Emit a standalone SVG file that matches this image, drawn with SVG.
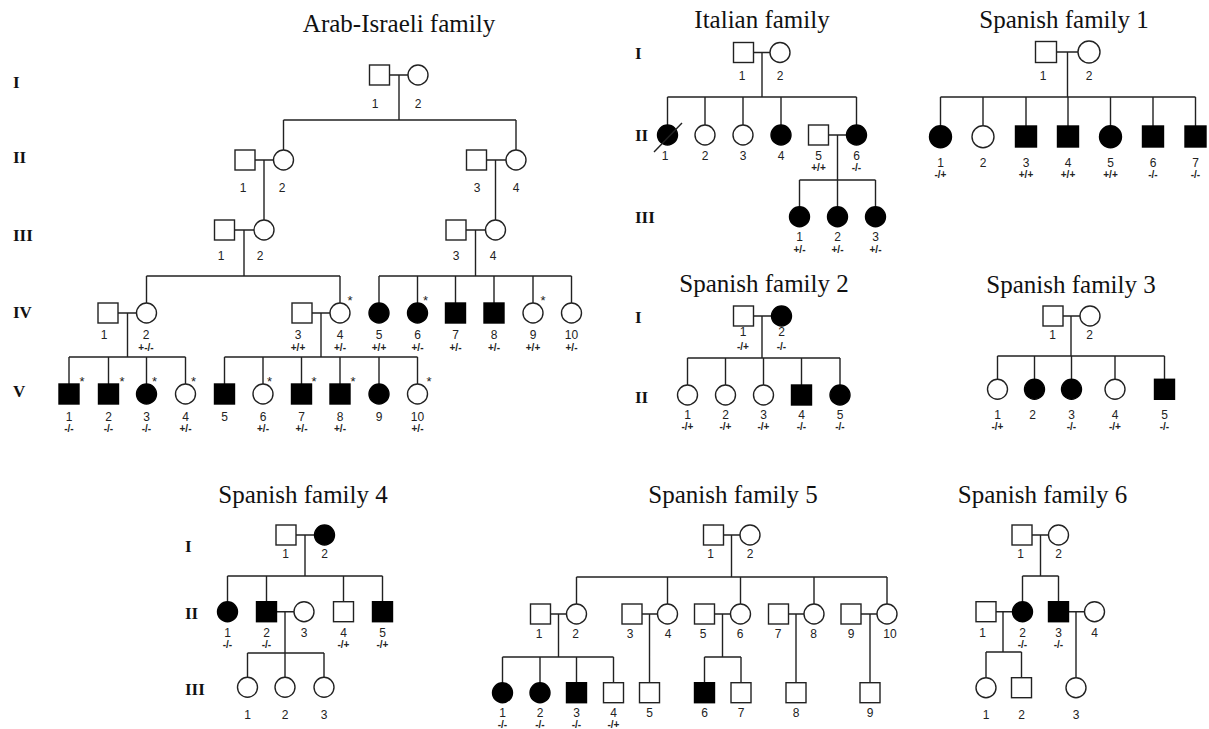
<svg xmlns="http://www.w3.org/2000/svg" width="1209" height="729" viewBox="0 0 1209 729">
<style>
.t{font-family:"Liberation Serif","Times New Roman",serif;font-size:25px;text-anchor:middle;fill:#111}
.g{font-family:"Liberation Serif","Times New Roman",serif;font-size:17px;font-weight:bold;fill:#111}
.n{font-family:"Liberation Sans",Arial,sans-serif;font-size:12px;text-anchor:middle;fill:#222}
.gt{font-family:"Liberation Sans",Arial,sans-serif;font-size:10px;font-weight:bold;text-anchor:middle;fill:#222}
.s{font-family:"Liberation Sans",Arial,sans-serif;font-size:13px;text-anchor:middle;fill:#222}
.o{fill:#fff;stroke:#222;stroke-width:1.4}
.f{fill:#000;stroke:#000;stroke-width:1.4}
.c path{fill:none;stroke:#222;stroke-width:1.4}
</style>
<rect width="1209" height="729" fill="#fff"/>

<!-- ===== Arab-Israeli family ===== -->
<text class="t" x="399" y="32">Arab-Israeli family</text>
<text class="g" x="13" y="88">I</text>
<text class="g" x="13" y="163">II</text>
<text class="g" x="13" y="241">III</text>
<text class="g" x="13" y="318">IV</text>
<text class="g" x="13" y="397">V</text>
<g id="ai-connectors" class="c">
<path d="M389.5 75H408M399 75V120M283.5 120H516M283.5 120V150M516 120V150"/>
<path d="M255 160H273.5M264 160V220M486.5 160H506M495.5 160V220"/>
<path d="M234.5 230H254M244 230V276M466 230H485.5M475.5 230V276"/>
<path d="M146.5 276H340M146.5 276V303M340 276V303"/>
<path d="M379 276H571.5M379 276V303M417.5 276V303M455.5 276V303M494 276V303M533 276V303M571.5 276V303"/>
<path d="M118 313H136.5M127.5 313V357M312 313H330M321 313V357"/>
<path d="M69 357H185.5M69 357V384M108.5 357V384M146.5 357V384M185.5 357V384"/>
<path d="M224.5 357H417.5M224.5 357V384M263 357V384M301.5 357V384M340 357V384M379 357V384M417.5 357V384"/>
</g>
<g id="ai-I1"><rect class="o" x="369.5" y="65" width="20" height="20"/><text class="n" x="375" y="108">1</text></g>
<g id="ai-I2"><circle class="o" cx="418" cy="75" r="10"/><text class="n" x="418" y="108">2</text></g>
<g id="ai-II1"><rect class="o" x="235" y="150" width="20" height="20"/><text class="n" x="243" y="192">1</text></g>
<g id="ai-II2"><circle class="o" cx="283.5" cy="160" r="10"/><text class="n" x="282" y="192">2</text></g>
<g id="ai-II3"><rect class="o" x="466.5" y="150" width="20" height="20"/><text class="n" x="477" y="192">3</text></g>
<g id="ai-II4"><circle class="o" cx="516" cy="160" r="10"/><text class="n" x="516" y="192">4</text></g>
<g id="ai-III1"><rect class="o" x="214.5" y="220" width="20" height="20"/><text class="n" x="221" y="260">1</text></g>
<g id="ai-III2"><circle class="o" cx="264" cy="230" r="10"/><text class="n" x="260" y="260">2</text></g>
<g id="ai-III3"><rect class="o" x="446" y="220" width="20" height="20"/><text class="n" x="456" y="260">3</text></g>
<g id="ai-III4"><circle class="o" cx="495.5" cy="230" r="10"/><text class="n" x="493" y="260">4</text></g>
<g id="ai-IV1"><rect class="o" x="98" y="303" width="20" height="20"/><text class="n" x="104" y="339">1</text></g>
<g id="ai-IV2"><circle class="o" cx="146.5" cy="313" r="10"/><text class="n" x="146" y="339">2</text><text class="gt" x="146" y="350.5">+-/-</text></g>
<g id="ai-IV3"><rect class="o" x="292" y="303" width="20" height="20"/><text class="n" x="298" y="339">3</text><text class="gt" x="298" y="350.5">+/+</text></g>
<g id="ai-IV4"><circle class="o" cx="340" cy="313" r="10"/><text class="n" x="340" y="339">4</text><text class="gt" x="340" y="350.5">+/-</text><text class="s" x="350" y="305">*</text></g>
<g id="ai-IV5"><circle class="f" cx="379" cy="313" r="10"/><text class="n" x="379" y="339">5</text><text class="gt" x="379" y="350.5">+/+</text></g>
<g id="ai-IV6"><circle class="f" cx="417.5" cy="313" r="10"/><text class="n" x="417.5" y="339">6</text><text class="gt" x="417.5" y="350.5">+/-</text><text class="s" x="425.5" y="305">*</text></g>
<g id="ai-IV7"><rect class="f" x="445.5" y="303" width="20" height="20"/><text class="n" x="455.5" y="339">7</text><text class="gt" x="455.5" y="350.5">+/-</text></g>
<g id="ai-IV8"><rect class="f" x="484" y="303" width="20" height="20"/><text class="n" x="494" y="339">8</text><text class="gt" x="494" y="350.5">+/-</text></g>
<g id="ai-IV9"><circle class="o" cx="533" cy="313" r="10"/><text class="n" x="533" y="339">9</text><text class="gt" x="533" y="350.5">+/+</text><text class="s" x="543" y="305">*</text></g>
<g id="ai-IV10"><circle class="o" cx="571.5" cy="313" r="10"/><text class="n" x="571.5" y="339">10</text><text class="gt" x="571.5" y="350.5">+/-</text></g>
<g id="ai-V1"><rect class="f" x="59" y="384" width="20" height="20"/><text class="n" x="69" y="421">1</text><text class="gt" x="69" y="432">-/-</text><text class="s" x="82" y="386">*</text></g>
<g id="ai-V2"><rect class="f" x="98.5" y="384" width="20" height="20"/><text class="n" x="108.5" y="421">2</text><text class="gt" x="108.5" y="432">-/-</text><text class="s" x="122" y="386">*</text></g>
<g id="ai-V3"><circle class="f" cx="146.5" cy="394" r="10"/><text class="n" x="146.5" y="421">3</text><text class="gt" x="146.5" y="432">-/-</text><text class="s" x="154.5" y="386">*</text></g>
<g id="ai-V4"><circle class="o" cx="185.5" cy="394" r="10"/><text class="n" x="185.5" y="421">4</text><text class="gt" x="185.5" y="432">+/-</text><text class="s" x="193.5" y="386">*</text></g>
<g id="ai-V5"><rect class="f" x="214.5" y="384" width="20" height="20"/><text class="n" x="224.5" y="421">5</text></g>
<g id="ai-V6"><circle class="o" cx="263" cy="394" r="10"/><text class="n" x="263" y="421">6</text><text class="gt" x="263" y="432">+/-</text><text class="s" x="269.5" y="386">*</text></g>
<g id="ai-V7"><rect class="f" x="291.5" y="384" width="20" height="20"/><text class="n" x="301.5" y="421">7</text><text class="gt" x="301.5" y="432">+/-</text><text class="s" x="314" y="386">*</text></g>
<g id="ai-V8"><rect class="f" x="330" y="384" width="20" height="20"/><text class="n" x="340" y="421">8</text><text class="gt" x="340" y="432">+/-</text><text class="s" x="353" y="386">*</text></g>
<g id="ai-V9"><circle class="f" cx="379" cy="394" r="10"/><text class="n" x="379" y="421">9</text></g>
<g id="ai-V10"><circle class="o" cx="417.5" cy="394" r="10"/><text class="n" x="417.5" y="421">10</text><text class="gt" x="417.5" y="432">+/-</text><text class="s" x="429" y="386">*</text></g>

<!-- ===== Italian family ===== -->
<text class="t" x="762" y="28">Italian family</text>
<text class="g" x="635" y="59">I</text>
<text class="g" x="635" y="141">II</text>
<text class="g" x="635" y="223">III</text>
<g id="it-connectors" class="c">
<path d="M753.5 52.5H770M762 52.5V97M667.5 97H856.5M667.5 97V125M705 97V125M743 97V125M781 97V125M856.5 97V125"/>
<path d="M828.5 135H846.5M837.5 135V180M799.5 180H875.5M799.5 180V206.7M837.5 180V206.7M875.5 180V206.7"/>
</g>
<g id="it-I1"><rect class="o" x="733.5" y="42.5" width="20" height="20"/><text class="n" x="742" y="80">1</text></g>
<g id="it-I2"><circle class="o" cx="780" cy="52.5" r="10"/><text class="n" x="780" y="80">2</text></g>
<g id="it-II1"><circle class="f" cx="667.5" cy="135" r="10"/><path d="M654 152L682 123" stroke="#222" stroke-width="1.4"/><text class="n" x="665" y="159.5">1</text></g>
<g id="it-II2"><circle class="o" cx="705" cy="135" r="10"/><text class="n" x="705" y="159.5">2</text></g>
<g id="it-II3"><circle class="o" cx="743" cy="135" r="10"/><text class="n" x="743" y="159.5">3</text></g>
<g id="it-II4"><circle class="f" cx="781" cy="135" r="10"/><text class="n" x="781" y="159.5">4</text></g>
<g id="it-II5"><rect class="o" x="808.5" y="125" width="20" height="20"/><text class="n" x="818.5" y="159.5">5</text><text class="gt" x="818.5" y="171">+/+</text></g>
<g id="it-II6"><circle class="f" cx="856.5" cy="135" r="10"/><text class="n" x="856.5" y="159.5">6</text><text class="gt" x="856.5" y="171">-/-</text></g>
<g id="it-III1"><circle class="f" cx="799.5" cy="216.7" r="10"/><text class="n" x="799.5" y="241">1</text><text class="gt" x="799.5" y="253">+/-</text></g>
<g id="it-III2"><circle class="f" cx="837.5" cy="216.7" r="10"/><text class="n" x="837.5" y="241">2</text><text class="gt" x="837.5" y="253">+/-</text></g>
<g id="it-III3"><circle class="f" cx="875.5" cy="216.7" r="10"/><text class="n" x="875.5" y="241">3</text><text class="gt" x="875.5" y="253">+/-</text></g>

<!-- ===== Spanish family 1 ===== -->
<text class="t" x="1064" y="28">Spanish family 1</text>
<g id="s1-connectors" class="c">
<path d="M1056.5 52H1078M1067.5 52V97M940.5 97H1195.5M940.5 97V125.7M983 97V125.7M1026 97V126M1068 97V126M1110.5 97V125.7M1153 97V126M1195.5 97V126"/>
</g>
<g id="s1-I1"><rect class="o" x="1035.5" y="41.5" width="21" height="21"/><text class="n" x="1043" y="80">1</text></g>
<g id="s1-I2"><circle class="o" cx="1089" cy="52" r="11"/><text class="n" x="1089" y="80">2</text></g>
<g id="s1-II1"><circle class="f" cx="940.5" cy="136.7" r="11"/><text class="n" x="940.5" y="167">1</text><text class="gt" x="940.5" y="178">-/+</text></g>
<g id="s1-II2"><circle class="o" cx="983" cy="136.7" r="11"/><text class="n" x="983" y="167">2</text></g>
<g id="s1-II3"><rect class="f" x="1015.5" y="126" width="21" height="21"/><text class="n" x="1026" y="167">3</text><text class="gt" x="1026" y="178">+/+</text></g>
<g id="s1-II4"><rect class="f" x="1057.5" y="126" width="21" height="21"/><text class="n" x="1068" y="167">4</text><text class="gt" x="1068" y="178">+/+</text></g>
<g id="s1-II5"><circle class="f" cx="1110.5" cy="136.7" r="11"/><text class="n" x="1110.5" y="167">5</text><text class="gt" x="1110.5" y="178">+/+</text></g>
<g id="s1-II6"><rect class="f" x="1142.5" y="126" width="21" height="21"/><text class="n" x="1153" y="167">6</text><text class="gt" x="1153" y="178">-/-</text></g>
<g id="s1-II7"><rect class="f" x="1185" y="126" width="21" height="21"/><text class="n" x="1195.5" y="167">7</text><text class="gt" x="1195.5" y="178">-/-</text></g>

<!-- ===== Spanish family 2 ===== -->
<text class="t" x="764" y="292">Spanish family 2</text>
<text class="g" x="635" y="323">I</text>
<text class="g" x="635" y="403">II</text>
<g id="s2-connectors" class="c">
<path d="M753.5 316H771.5M762 316V358M687.5 358H840M687.5 358V385M725.5 358V385M763.5 358V385M801.5 358V385M840 358V385"/>
</g>
<g id="s2-I1"><rect class="o" x="733.5" y="306" width="20" height="20"/><text class="n" x="743" y="336">1</text><text class="gt" x="743" y="350">-/+</text></g>
<g id="s2-I2"><circle class="f" cx="781.5" cy="316" r="10"/><text class="n" x="781.5" y="336">2</text><text class="gt" x="781.5" y="350">-/-</text></g>
<g id="s2-II1"><circle class="o" cx="687.5" cy="395" r="10"/><text class="n" x="687.5" y="418.5">1</text><text class="gt" x="687.5" y="429.5">-/+</text></g>
<g id="s2-II2"><circle class="o" cx="725.5" cy="395" r="10"/><text class="n" x="725.5" y="418.5">2</text><text class="gt" x="725.5" y="429.5">-/+</text></g>
<g id="s2-II3"><circle class="o" cx="763.5" cy="395" r="10"/><text class="n" x="763.5" y="418.5">3</text><text class="gt" x="763.5" y="429.5">-/+</text></g>
<g id="s2-II4"><rect class="f" x="791.5" y="385" width="20" height="20"/><text class="n" x="801.5" y="418.5">4</text><text class="gt" x="801.5" y="429.5">-/-</text></g>
<g id="s2-II5"><circle class="f" cx="840" cy="395" r="10"/><text class="n" x="840" y="418.5">5</text><text class="gt" x="840" y="429.5">-/-</text></g>

<!-- ===== Spanish family 3 ===== -->
<text class="t" x="1071" y="293">Spanish family 3</text>
<g id="s3-connectors" class="c">
<path d="M1063 316H1080M1071 316V356M997.5 356H1164.5M997.5 356V379.3M1034.5 356V379.3M1071.5 356V379.3M1115 356V379.3M1164.5 356V379.3"/>
</g>
<g id="s3-I1"><rect class="o" x="1043" y="306" width="20" height="20"/><text class="n" x="1052.5" y="339">1</text></g>
<g id="s3-I2"><circle class="o" cx="1090" cy="316" r="10"/><text class="n" x="1089.5" y="339">2</text></g>
<g id="s3-II1"><circle class="o" cx="997.5" cy="389.3" r="10"/><text class="n" x="997.5" y="418.5">1</text><text class="gt" x="997.5" y="429.5">-/+</text></g>
<g id="s3-II2"><circle class="f" cx="1034.5" cy="389.3" r="10"/><text class="n" x="1032.5" y="418.5">2</text></g>
<g id="s3-II3"><circle class="f" cx="1071.5" cy="389.3" r="10"/><text class="n" x="1071.5" y="418.5">3</text><text class="gt" x="1071.5" y="429.5">-/-</text></g>
<g id="s3-II4"><circle class="o" cx="1115" cy="389.3" r="10"/><text class="n" x="1115" y="418.5">4</text><text class="gt" x="1115" y="429.5">-/+</text></g>
<g id="s3-II5"><rect class="f" x="1154.5" y="379.3" width="20" height="20"/><text class="n" x="1164.5" y="418.5">5</text><text class="gt" x="1164.5" y="429.5">-/-</text></g>

<!-- ===== Spanish family 4 ===== -->
<text class="t" x="303" y="503">Spanish family 4</text>
<text class="g" x="185" y="552">I</text>
<text class="g" x="185" y="619">II</text>
<text class="g" x="185" y="695">III</text>
<g id="s4-connectors" class="c">
<path d="M296 535H314.5M305 535V576M227.5 576H382.5M227.5 576V601.7M266.5 576V601.7M343.5 576V601.7M382.5 576V601.7"/>
<path d="M276.5 611.7H294M285 611.7V653M247.5 653H324M247.5 653V677.3M285 653V677.3M324 653V677.3"/>
</g>
<g id="s4-I1"><rect class="o" x="276" y="525" width="20" height="20"/><text class="n" x="285.5" y="558">1</text></g>
<g id="s4-I2"><circle class="f" cx="324.5" cy="535" r="10"/><text class="n" x="324.5" y="558">2</text></g>
<g id="s4-II1"><circle class="f" cx="227.5" cy="611.7" r="10"/><text class="n" x="227.5" y="637">1</text><text class="gt" x="227.5" y="648">-/-</text></g>
<g id="s4-II2"><rect class="f" x="256.5" y="601.7" width="20" height="20"/><text class="n" x="266.5" y="637">2</text><text class="gt" x="266.5" y="648">-/-</text></g>
<g id="s4-II3"><circle class="o" cx="304" cy="611.7" r="10"/><text class="n" x="304" y="637">3</text></g>
<g id="s4-II4"><rect class="o" x="333.5" y="601.7" width="20" height="20"/><text class="n" x="343.5" y="637">4</text><text class="gt" x="343.5" y="648">-/+</text></g>
<g id="s4-II5"><rect class="f" x="372.5" y="601.7" width="20" height="20"/><text class="n" x="382.5" y="637">5</text><text class="gt" x="382.5" y="648">-/+</text></g>
<g id="s4-III1"><circle class="o" cx="247.5" cy="687.3" r="10"/><text class="n" x="247.5" y="719">1</text></g>
<g id="s4-III2"><circle class="o" cx="285" cy="687.3" r="10"/><text class="n" x="285" y="719">2</text></g>
<g id="s4-III3"><circle class="o" cx="324" cy="687.3" r="10"/><text class="n" x="324" y="719">3</text></g>

<!-- ===== Spanish family 5 ===== -->
<text class="t" x="733" y="503">Spanish family 5</text>
<g id="s5-connectors" class="c">
<path d="M723.5 535H740M731.5 535V577M576.5 577H887M576.5 577V604M667.5 577V604M740.5 577V604M814 577V604M887 577V604"/>
<path d="M550.5 614H566.5M642 614H657.5M714.5 614H730.5M788.5 614H804M861 614H877"/>
<path d="M558.5 614V657M502.5 657H613.5M502.5 657V682.7M540 657V682.7M576.5 657V682.7M613.5 657V682.7"/>
<path d="M649.5 614V682.7M722.5 614V657M704.5 657H741M704.5 657V682.7M741 657V682.7M796 614V682.7M870 614V682.7"/>
</g>
<g id="s5-I1"><rect class="o" x="703.5" y="525" width="20" height="20"/><text class="n" x="710.5" y="557.5">1</text></g>
<g id="s5-I2"><circle class="o" cx="750" cy="535" r="10"/><text class="n" x="750" y="557.5">2</text></g>
<g id="s5-II1"><rect class="o" x="530.5" y="604" width="20" height="20"/><text class="n" x="539" y="637.5">1</text></g>
<g id="s5-II2"><circle class="o" cx="576.5" cy="614" r="10"/><text class="n" x="575.5" y="637.5">2</text></g>
<g id="s5-II3"><rect class="o" x="622" y="604" width="20" height="20"/><text class="n" x="630" y="637.5">3</text></g>
<g id="s5-II4"><circle class="o" cx="667.5" cy="614" r="10"/><text class="n" x="668" y="637.5">4</text></g>
<g id="s5-II5"><rect class="o" x="694.5" y="604" width="20" height="20"/><text class="n" x="703" y="637.5">5</text></g>
<g id="s5-II6"><circle class="o" cx="740.5" cy="614" r="10"/><text class="n" x="740" y="637.5">6</text></g>
<g id="s5-II7"><rect class="o" x="768.5" y="604" width="20" height="20"/><text class="n" x="778" y="637.5">7</text></g>
<g id="s5-II8"><circle class="o" cx="814" cy="614" r="10"/><text class="n" x="813.5" y="637.5">8</text></g>
<g id="s5-II9"><rect class="o" x="841" y="604" width="20" height="20"/><text class="n" x="851" y="637.5">9</text></g>
<g id="s5-II10"><circle class="o" cx="887" cy="614" r="10"/><text class="n" x="890" y="637.5">10</text></g>
<g id="s5-III1"><circle class="f" cx="502.5" cy="692.7" r="10"/><text class="n" x="502.5" y="717">1</text><text class="gt" x="502.5" y="728">-/-</text></g>
<g id="s5-III2"><circle class="f" cx="540" cy="692.7" r="10"/><text class="n" x="540" y="717">2</text><text class="gt" x="540" y="728">-/-</text></g>
<g id="s5-III3"><rect class="f" x="566.5" y="682.7" width="20" height="20"/><text class="n" x="576.5" y="717">3</text><text class="gt" x="576.5" y="728">-/-</text></g>
<g id="s5-III4"><rect class="o" x="603.5" y="682.7" width="20" height="20"/><text class="n" x="613.5" y="717">4</text><text class="gt" x="613.5" y="728">-/+</text></g>
<g id="s5-III5"><rect class="o" x="639.5" y="682.7" width="20" height="20"/><text class="n" x="649.5" y="717">5</text></g>
<g id="s5-III6"><rect class="f" x="694.5" y="682.7" width="20" height="20"/><text class="n" x="704.5" y="717">6</text></g>
<g id="s5-III7"><rect class="o" x="731" y="682.7" width="20" height="20"/><text class="n" x="741" y="717">7</text></g>
<g id="s5-III8"><rect class="o" x="786" y="682.7" width="20" height="20"/><text class="n" x="796" y="717">8</text></g>
<g id="s5-III9"><rect class="o" x="860" y="682.7" width="20" height="20"/><text class="n" x="870" y="717">9</text></g>

<!-- ===== Spanish family 6 ===== -->
<text class="t" x="1042.5" y="503">Spanish family 6</text>
<g id="s6-connectors" class="c">
<path d="M1032 535H1048.5M1040.5 535V576M1022.5 576H1058.5M1022.5 576V601.7M1058.5 576V601.7"/>
<path d="M996 611.7H1012.5M1003 611.7V652M986 652H1021.5M986 652V677.7M1021.5 652V677.7M1068.5 611.7H1084.5M1076 611.7V677.7"/>
</g>
<g id="s6-I1"><rect class="o" x="1012" y="525" width="20" height="20"/><text class="n" x="1020.5" y="557.5">1</text></g>
<g id="s6-I2"><circle class="o" cx="1058.5" cy="535" r="10"/><text class="n" x="1058.5" y="557.5">2</text></g>
<g id="s6-II1"><rect class="o" x="976" y="601.7" width="20" height="20"/><text class="n" x="982.5" y="637">1</text></g>
<g id="s6-II2"><circle class="f" cx="1022.5" cy="611.7" r="10"/><text class="n" x="1022.5" y="637">2</text><text class="gt" x="1022.5" y="648">-/-</text></g>
<g id="s6-II3"><rect class="f" x="1048.5" y="601.7" width="20" height="20"/><text class="n" x="1058.5" y="637">3</text><text class="gt" x="1058.5" y="648">-/-</text></g>
<g id="s6-II4"><circle class="o" cx="1094.5" cy="611.7" r="10"/><text class="n" x="1094.5" y="637">4</text></g>
<g id="s6-III1"><circle class="o" cx="986" cy="687.7" r="10"/><text class="n" x="986" y="719">1</text></g>
<g id="s6-III2"><rect class="o" x="1011.5" y="677.7" width="20" height="20"/><text class="n" x="1021.5" y="719">2</text></g>
<g id="s6-III3"><circle class="o" cx="1076" cy="687.7" r="10"/><text class="n" x="1076" y="719">3</text></g>
</svg>
